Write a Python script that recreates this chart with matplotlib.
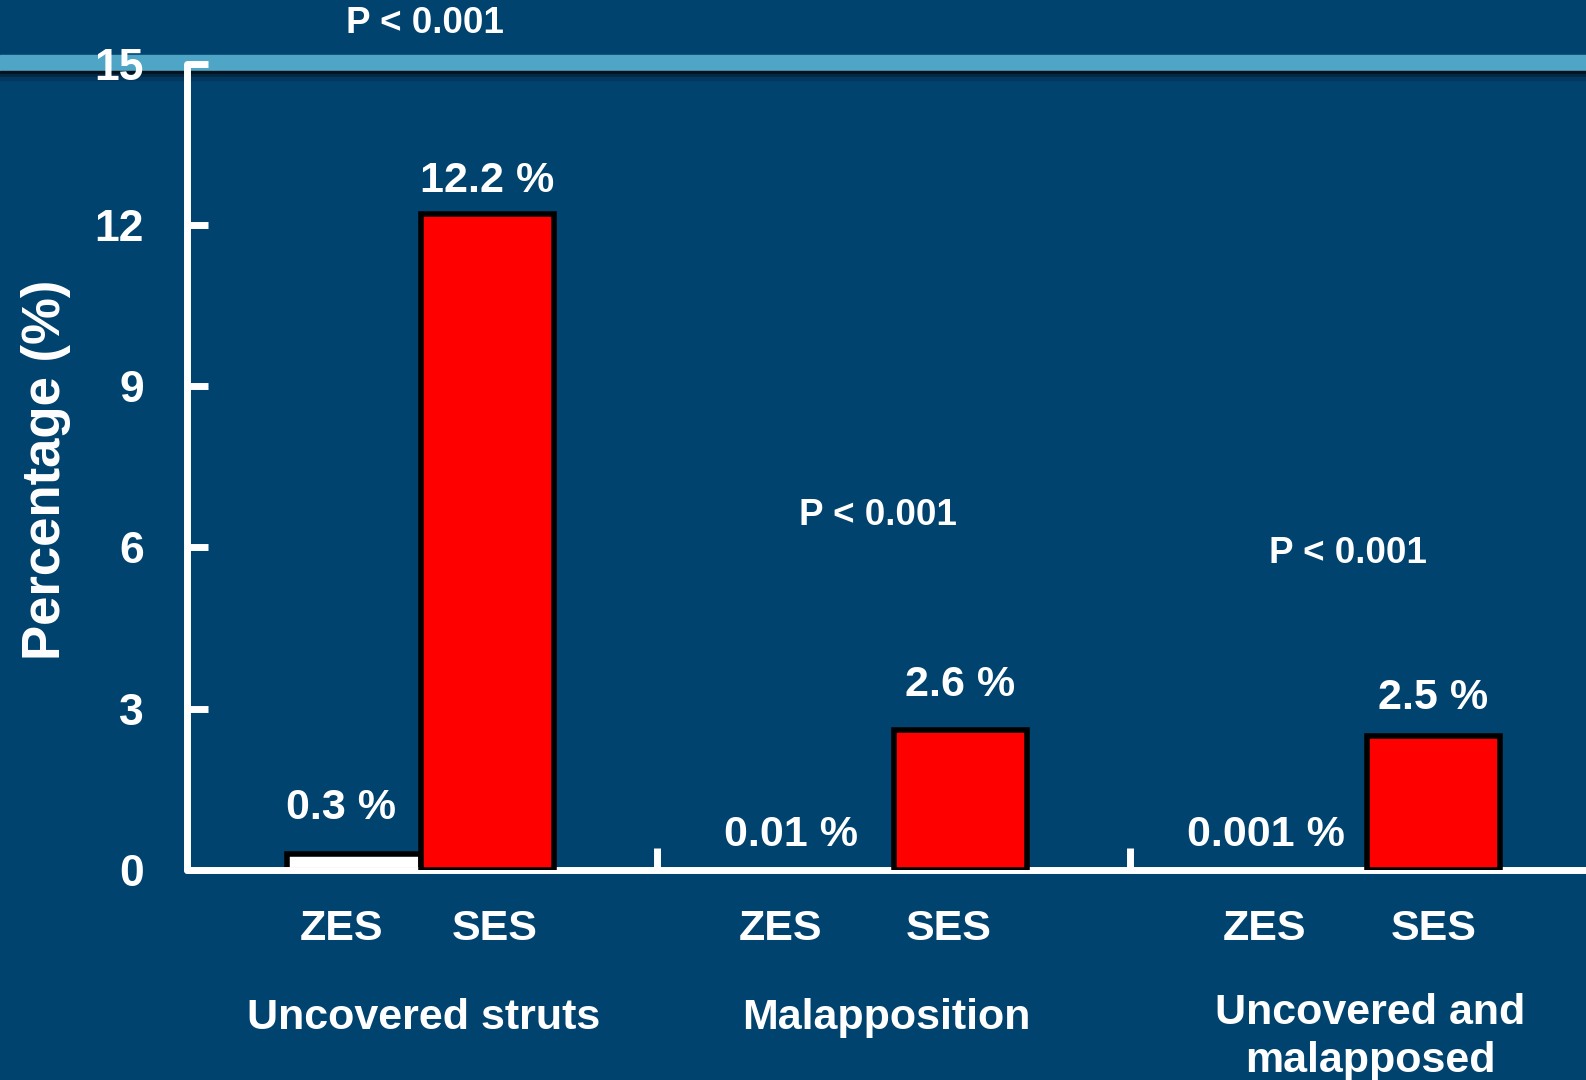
import numpy as np
import matplotlib.pyplot as plt
from matplotlib.patches import Rectangle

plt.rcParams['font.family'] = ['Liberation Sans', 'DejaVu Sans']
plt.rcParams['font.weight'] = 'bold'

groups = ['Uncovered struts', 'Malapposition', 'Uncovered and\nmalapposed']
zes = [0.3, 0.01, 0.001]
ses = [12.2, 2.6, 2.5]
zes_labels = ['0.3 %', '0.01 %', '0.001 %']
ses_labels = ['12.2 %', '2.6 %', '2.5 %']
p_text = ['P < 0.001', 'P < 0.001', 'P < 0.001']

# layout tweaks (label placement)
p_y = [15.75, 6.6, 5.88]
p_dx = [0.009, -0.033, -0.04]
zes_pad = [25, 17, 17]
ses_pad = [16, 25, 19]
zes_dx = [-9, -26, -24]
zes_tick_dx = [-0.026, -0.098, -0.075]
ses_tick_dx = [0.015, -0.026, 0.0]
grp_dx = [0.007, -0.016, 0.008]
grp_y = [-2.75, -2.75, -3.1]

bg = '#01436F'
fig = plt.figure(figsize=(15.86, 10.8), dpi=100, facecolor=bg)

# light blue band across the top of the slide, with a dark shadow under it
H = 1080.0
band = [(55, 70.7, '#4FA5C5'), (70.7, 74, '#06121C'),
        (74, 77, '#042844'), (77, 80, '#03385E')]
for top, bot, c in band:
    fig.patches.append(Rectangle((0, 1 - bot / H), 1, (bot - top) / H,
                                 transform=fig.transFigure, color=c, zorder=-1))

ax = fig.add_axes([0.1179, 0.1944, 0.8821, 0.7468])
ax.set_facecolor('none')

x = np.arange(len(groups))
w = 0.283
# ZES bars sit under the axis line so the near-zero ones vanish into it
ax.bar(x - w / 2, zes, w, color='white', edgecolor='black', linewidth=4, zorder=2)
ax.bar(x + w / 2, ses, w, color='#FF0000', edgecolor='black', linewidth=4, zorder=3)

for i in range(len(groups)):
    ax.annotate(zes_labels[i], (x[i] - w / 2, zes[i]), xytext=(zes_dx[i], zes_pad[i]),
                textcoords='offset points', ha='center', va='baseline',
                color='white', fontsize=31, fontweight='bold')
    ax.annotate(ses_labels[i], (x[i] + w / 2, ses[i]), xytext=(0, ses_pad[i]),
                textcoords='offset points', ha='center', va='baseline',
                color='white', fontsize=31, fontweight='bold')
    ax.text(x[i] + p_dx[i], p_y[i], p_text[i], ha='center', va='center',
            color='white', fontsize=26.5, fontweight='bold', clip_on=False)
    ax.text(x[i] - w / 2 + zes_tick_dx[i], -1.1, 'ZES', ha='center', va='center',
            color='white', fontsize=31, fontweight='bold')
    ax.text(x[i] + w / 2 + ses_tick_dx[i], -1.1, 'SES', ha='center', va='center',
            color='white', fontsize=31, fontweight='bold')
    ax.text(x[i] + grp_dx[i], grp_y[i], groups[i], ha='center', va='center',
            color='white', fontsize=31, fontweight='bold', linespacing=1.25)

ax.set_xlim(-0.494, 2.464)
ax.set_ylim(0, 15)
ax.set_yticks(np.arange(0, 16, 3))
ax.set_xticks([0.5, 1.5])
ax.set_xticklabels([])

for s in ['top', 'right']:
    ax.spines[s].set_visible(False)
for s in ['left', 'bottom']:
    ax.spines[s].set_color('white')
    ax.spines[s].set_linewidth(5)
    ax.spines[s].set_capstyle('round')

ax.tick_params(axis='y', direction='in', length=15, width=5, color='white',
               labelcolor='white', labelsize=32, pad=31)
ax.tick_params(axis='x', direction='in', length=16, width=5, color='white')
for lab in ax.get_yticklabels():
    lab.set_fontweight('bold')

fig.text(46 / 1586, 1 - 470 / H, 'Percentage (%)', rotation=90, ha='center',
         va='center', color='white', fontsize=38, fontweight='bold')

fig.savefig('out.png', dpi=100, facecolor=bg)
